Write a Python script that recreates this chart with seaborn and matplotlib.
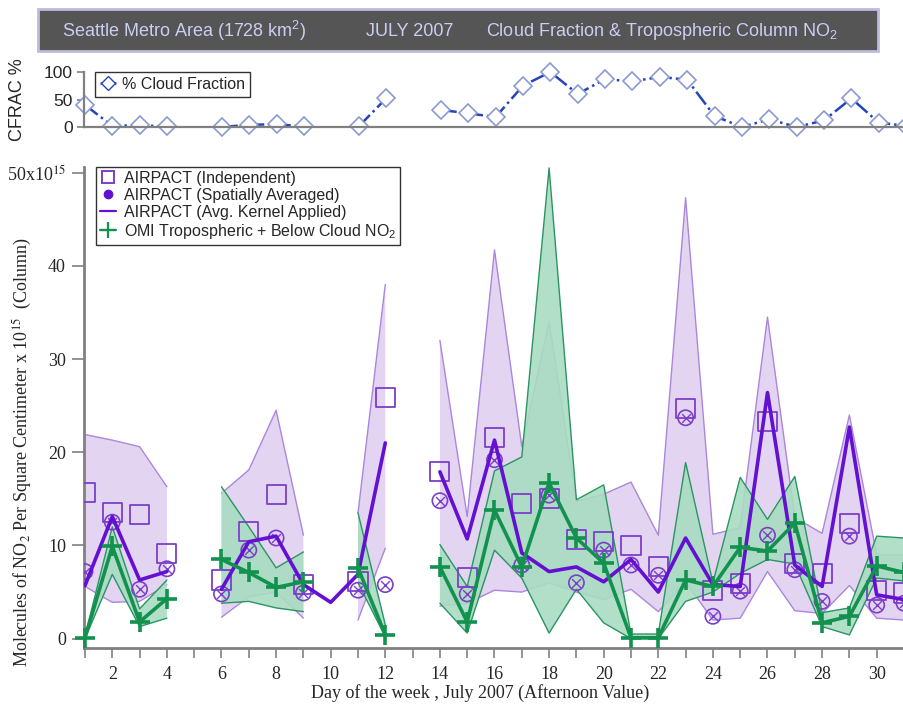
import numpy as np
import pandas as pd
import matplotlib
matplotlib.use("Agg")
import matplotlib.pyplot as plt
from matplotlib.lines import Line2D
from matplotlib.patches import Rectangle
import seaborn as sns

nan = np.nan

# ---- data: July 2007, Seattle metro area, afternoon values ----
days = list(range(1, 32))

cloud_fraction = [40, 2, 3, 1, nan, 0, 4, 5, 1, nan, 1, 52, nan, 31, 25, 18, 75, 100,
                  60, 87, 83, 91, 86, 20, 0, 14, 0, 12, 52, 8, 2]

airpact_independent = [15.7, 13.5, 13.3, 9.1, nan, 6.3, 11.5, 15.5, 5.8, nan, 6.1, 25.9, nan,
                       17.9, 6.6, 21.6, 14.5, 15.0, 10.6, 10.4, 10.0, 7.7, 24.7, 5.2, 5.9,
                       23.3, 8.1, 7.0, 12.4, 5.2, 4.9]

airpact_spatial = [7.2, 12.5, 5.3, 7.5, nan, 4.8, 9.5, 10.8, 4.9, nan, 5.2, 5.8, nan,
                   14.8, 4.8, 19.2, 7.9, 15.4, 6.0, 9.5, 7.9, 6.8, 23.7, 2.4, 5.1,
                   11.1, 7.4, 4.0, 11.0, 3.6, 3.8]

airpact_kernel = [5.7, 13.1, 6.3, 7.2, nan, 5.3, 10.4, 11.0, 5.8, 3.9, 6.9, 21.0, nan,
                  17.9, 10.7, 21.3, 9.2, 7.2, 7.7, 6.1, 8.5, 5.0, 10.8, 5.8, 5.6,
                  26.4, 7.9, 5.6, 22.7, 4.7, 4.2]

omi_no2 = [0.1, 9.9, 1.8, 4.3, nan, 8.5, 7.1, 5.5, 6.1, nan, 7.6, 0.4, nan,
           7.7, 1.8, 13.8, 7.7, 16.7, 10.8, 8.1, 0.1, 0.1, 6.3, 5.6, 9.8,
           9.4, 12.4, 1.7, 2.4, 7.8, 7.1]

airpact_high = [21.9, 21.3, 20.6, 16.3, nan, 15.6, 18.1, 24.5, 11.1, nan, 13.5, 38.0, nan,
                32.0, 13.1, 41.7, 20.6, 34.0, 14.7, 15.5, 16.8, 11.1, 47.3, 11.2, 11.9,
                34.5, 13.0, 11.3, 24.0, 9.0, 9.0]
airpact_low = [5.6, 3.9, 4.0, 5.8, nan, 2.3, 4.5, 5.0, 2.2, nan, 2.0, 9.7, nan,
               3.5, 3.8, 5.2, 5.0, 6.0, 5.0, 4.2, 5.3, 2.9, 6.1, 2.0, 2.2,
               7.2, 3.0, 2.7, 5.7, 2.2, 2.0]

omi_high = [0.3, 12.0, 3.2, 6.3, nan, 16.3, 12.0, 7.6, 9.3, nan, 13.5, 1.5, nan,
            10.1, 5.6, 18.0, 19.5, 50.5, 14.9, 16.5, 0.5, 0.5, 18.9, 6.0, 17.3,
            12.8, 17.4, 2.8, 3.3, 11.0, 10.8]
omi_low = [0.0, 6.9, 1.3, 2.2, nan, 3.8, 4.0, 3.3, 2.9, nan, 6.0, 0.2, nan,
           3.8, 0.6, 9.5, 6.5, 0.6, 5.3, 1.7, 0.0, 0.0, 4.0, 5.0, 7.0,
           8.5, 8.0, 1.3, 0.4, 6.5, 6.2]

y_ticks = [0, 10, 20, 30, 40, 50]
y_tick_labels = ["0", "10", "20", "30", "40", "50x10$^{15}$"]
x_major = list(range(2, 31, 2))
cf_ticks = [0, 50, 100]

# ---- colours ----
PURPLE = "#6410d2"
PURPLE_MK = "#7b3fc9"
PURPLE_FILL = "#e3d5f1"
PURPLE_EDGE = "#ab86dc"
GREEN = "#13914f"
GREEN_FILL = "#a9dcc1"
GREEN_EDGE = "#2a9464"
BLUE = "#2544bc"
BLUE_MK = "#8b9ad0"
SPINE = "#808080"


def runs(values):
    """Long-form frame where each unbroken run of days is its own segment."""
    df = pd.DataFrame({"day": days, "value": values})
    df["segment"] = df["value"].isna().cumsum()
    return df.dropna()


sns.set_theme(style="white")
plt.rcParams["font.family"] = ["Liberation Sans", "DejaVu Sans"]
plt.rcParams["mathtext.fontset"] = "custom"
plt.rcParams["mathtext.rm"] = "Liberation Sans"
plt.rcParams["mathtext.it"] = "Liberation Sans:italic"

W, H = 904, 707
fig = plt.figure(figsize=(W / 100, H / 100), dpi=100)

x0 = 84 / W
xw = (W - 84) / W
xlim = (1 - 1 / 27.37, 1 + (W - 85) / 27.37)

# ---- title banner ----
fig.patches.append(Rectangle((38 / W, 1 - 51 / H), (878 - 38) / W, 42 / H,
                             transform=fig.transFigure, facecolor="#555555",
                             edgecolor="#bcbcdc", linewidth=2, zorder=0))
title_kw = dict(color="#cbcdf2", fontsize=13, va="center", ha="left")
fig.text(62 / W, 1 - 31 / H, "Seattle Metro Area (1728 km$^2$)", **title_kw)
fig.text(366 / W, 1 - 31 / H, "JULY 2007", **title_kw)
fig.text(486 / W, 1 - 31 / H, "Cloud Fraction & Tropospheric Column NO$_2$", **title_kw)

# ---- cloud fraction panel ----
ax_cf = fig.add_axes([x0, 1 - 127 / H, xw, 55 / H])
cf = runs(cloud_fraction)
sns.lineplot(data=cf, x="day", y="value", units="segment", estimator=None, ax=ax_cf,
             color=BLUE, linestyle="-.", linewidth=1.8, marker="D", markersize=9.5,
             markerfacecolor="white", markeredgecolor=BLUE_MK, markeredgewidth=1.2,
             clip_on=False, legend=False)
ax_cf.set_xlim(*xlim)
ax_cf.set_ylim(0, 100)
ax_cf.set_xticks([])
ax_cf.set_yticks(cf_ticks)
ax_cf.set_yticklabels([str(t) for t in cf_ticks], fontsize=12.5)
ax_cf.tick_params(axis="y", direction="out", length=5, width=1.2, color=SPINE, pad=3, left=True)
for s in ["top", "right"]:
    ax_cf.spines[s].set_visible(False)
for s in ["left", "bottom"]:
    ax_cf.spines[s].set_color(SPINE)
    ax_cf.spines[s].set_linewidth(1.6)
ax_cf.set_xlabel("")
ax_cf.set_ylabel("")
ax_cf.patch.set_alpha(0)
fig.text(18 / W, 1 - 100 / H, "CFRAC %", rotation=90, ha="center", va="center", fontsize=13)
cf_handle = Line2D([], [], color=BLUE, linestyle="-.", linewidth=1.8, marker="D",
                   markersize=7, markerfacecolor="white", markeredgecolor=BLUE)
fig.legend(handles=[cf_handle], labels=["% Cloud Fraction"], loc="upper left",
           bbox_to_anchor=(95 / W, 1 - 72 / H), bbox_transform=fig.transFigure,
           fontsize=11.5, frameon=True, fancybox=False, edgecolor="black",
           handlelength=1.0, handletextpad=0.4, borderpad=0.3, borderaxespad=0)

# ---- NO2 column panel ----
ax = fig.add_axes([x0, 1 - 648 / H, xw, (648 - 167) / H])
ax.fill_between(days, airpact_low, airpact_high, facecolor=PURPLE_FILL,
                edgecolor="none", zorder=1)
ax.plot(days, airpact_high, color=PURPLE_EDGE, lw=1.0, zorder=1.5)
ax.plot(days, airpact_low, color=PURPLE_EDGE, lw=1.0, zorder=1.5)
ax.fill_between(days, omi_low, omi_high, facecolor=GREEN_FILL, alpha=0.9,
                edgecolor="none", zorder=2)
ax.plot(days, omi_high, color=GREEN_EDGE, lw=1.0, zorder=2.5)
ax.plot(days, omi_low, color=GREEN_EDGE, lw=1.0, zorder=2.5)

indep = runs(airpact_independent)
spatial = runs(airpact_spatial)
sns.scatterplot(data=indep, x="day", y="value", ax=ax, marker="s", s=190,
                facecolor="none", edgecolor=PURPLE_MK, linewidth=1.3, zorder=4, legend=False)
sns.scatterplot(data=spatial, x="day", y="value", ax=ax, marker="o", s=120,
                facecolor="none", edgecolor=PURPLE_MK, linewidth=1.2, zorder=4, legend=False)
sns.scatterplot(data=spatial, x="day", y="value", ax=ax, marker="x", s=40,
                color=PURPLE_MK, linewidth=1.0, zorder=4, legend=False)

sns.lineplot(data=runs(airpact_kernel), x="day", y="value", units="segment",
             estimator=None, ax=ax, color=PURPLE, linewidth=2.6, zorder=5, legend=False)
sns.lineplot(data=runs(omi_no2), x="day", y="value", units="segment",
             estimator=None, ax=ax, color=GREEN, linewidth=2.6, marker="+",
             markersize=15, markeredgewidth=2.6, markeredgecolor=GREEN,
             zorder=6, legend=False, clip_on=False)

ax.set_xlim(*xlim)
ax.set_ylim(-1, 50.6)
ax.set_yticks(y_ticks)
ax.set_yticklabels(y_tick_labels, family="Liberation Serif", fontsize=13)
ax.set_xticks(x_major)
ax.set_xticklabels([str(d) for d in x_major], family="Liberation Serif", fontsize=13)
ax.set_xticks(days, minor=True)
ax.tick_params(axis="y", direction="out", length=9, width=1.2, color=SPINE, pad=4, left=True)
ax.tick_params(axis="x", which="both", direction="out", length=7, width=1.2,
               color=SPINE, pad=6, bottom=True)
for lbl in ax.get_yticklabels():
    lbl.set_math_fontfamily("stix")
for s in ["top", "right"]:
    ax.spines[s].set_visible(False)
for s in ["left", "bottom"]:
    ax.spines[s].set_color(SPINE)
    ax.spines[s].set_linewidth(2)
ax.set_xlabel("")
ax.set_ylabel("")
ax.patch.set_alpha(0)

fig.text(22 / W, 1 - 452 / H,
         "Molecules of NO$_2$ Per Square Centimeter x 10$^{15}$  (Column)",
         rotation=90, ha="center", va="center", family="Liberation Serif",
         fontsize=13, math_fontfamily="stix")
fig.text(480 / W, 1 - 693 / H, "Day of the week , July 2007 (Afternoon Value)",
         ha="center", va="center", family="Liberation Serif", fontsize=13)

handles = [
    Line2D([], [], linestyle="none", marker="s", markersize=8,
           markerfacecolor="none", markeredgecolor=PURPLE_MK, markeredgewidth=1.4),
    Line2D([], [], linestyle="none", marker="o", markersize=6,
           markerfacecolor=PURPLE, markeredgecolor=PURPLE),
    Line2D([], [], color=PURPLE, linewidth=1.6),
    Line2D([], [], color=GREEN, linewidth=1.6, marker="+", markersize=11,
           markeredgewidth=1.6),
]
labels = ["AIRPACT (Independent)", "AIRPACT (Spatially Averaged)",
          "AIRPACT (Avg. Kernel Applied)", "OMI Tropospheric + Below Cloud NO$_2$"]
leg = fig.legend(handles=handles, labels=labels, loc="upper left",
                 bbox_to_anchor=(96 / W, 1 - 167 / H), bbox_transform=fig.transFigure,
                 fontsize=11.5, frameon=True, fancybox=False, edgecolor="black",
                 handlelength=1.0, handletextpad=0.5, borderpad=0.25,
                 labelspacing=0.12, borderaxespad=0)
leg.get_frame().set_linewidth(1.0)

fig.savefig("out.png", dpi=100)
